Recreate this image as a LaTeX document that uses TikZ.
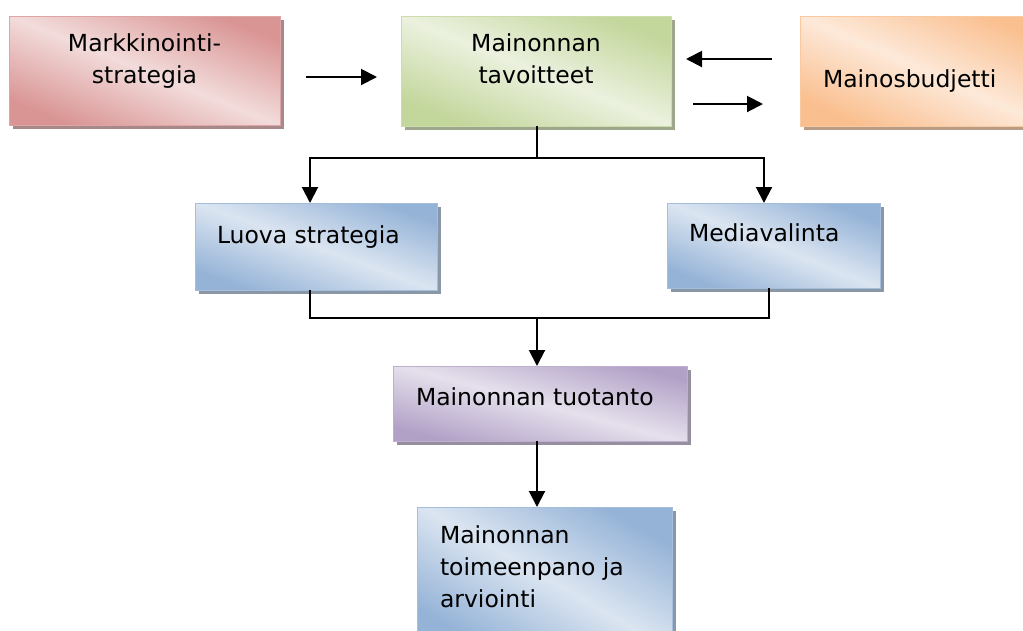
\documentclass[tikz,border=0pt]{standalone}
\usepackage{fontspec}
\setmainfont{DejaVu Sans}
\usetikzlibrary{arrows.meta,shadows}
\definecolor{pinkD}{HTML}{D99594}\definecolor{pinkL}{HTML}{F2DCDB}
\definecolor{greenD}{HTML}{C3D69B}\definecolor{greenL}{HTML}{EBF1DE}
\definecolor{orangeD}{HTML}{FABF8F}\definecolor{orangeL}{HTML}{FDE9D9}
\definecolor{blueD}{HTML}{95B3D7}\definecolor{blueL}{HTML}{DBE5F1}
\definecolor{purpleD}{HTML}{B2A1C7}\definecolor{purpleL}{HTML}{E5E0EC}
\newcommand\boxc[4]{\begin{minipage}[c][#2][t]{#1}\centering\rule{0pt}{#3}#4\end{minipage}}
\newcommand\boxl[5]{\begin{minipage}[c][#2][t]{#1}\raggedright\leftskip=#4\rule{0pt}{#3}#5\end{minipage}}
\tikzset{
  gbox/.style 2 args={inner sep=0pt, outer sep=0pt, line width=1pt, draw=#1D!85!white,
    top color=#1D, bottom color=#1D, middle color=#1L, shading angle=#2,
    general shadow={fill=#1D!45!gray, shadow xshift=3.5pt, shadow yshift=-3.5pt},
    font=\fontsize{23.5pt}{32pt}\selectfont},
  arr/.style={line width=2pt, -{Triangle[length=16pt,width=16pt]}},
  ln/.style={line width=2pt}
}
\begin{document}
\begin{tikzpicture}[x=1pt,y=-1pt]
\useasboundingbox (0,0) rectangle (1023,630);
\clip (0,0) rectangle (1023,630);
\node[gbox={pink}{-22}] (mk) at (144.5,70.5) {\boxc{271pt}{109pt}{35pt}{Markkinointi-\\strategia}};
\node[gbox={green}{-22}] (tav) at (536,71) {\boxc{270pt}{110pt}{35pt}{Mainonnan\\tavoitteet}};
\node[gbox={orange}{-24}] (bud) at (925,71) {\boxl{250pt}{110pt}{71pt}{23pt}{Mainosbudjetti}};
\node[gbox={blue}{-20}] (luova) at (316,246.5) {\boxl{242pt}{87pt}{40pt}{22pt}{Luova strategia}};
\node[gbox={blue}{-22}] (media) at (773.5,245.5) {\boxl{213pt}{85pt}{38pt}{22pt}{Mediavalinta}};
\node[gbox={purple}{-15}] (tuot) at (540,403.5) {\boxl{294pt}{75pt}{39pt}{23pt}{Mainonnan tuotanto}};
\node[gbox={blue}{-30}] (toim) at (544.5,577) {\boxl{255pt}{140pt}{36pt}{23pt}{Mainonnan\\toimeenpano ja\\arviointi}};
% top arrows
\draw[arr, shorten <=26pt, shorten >=24pt] ([yshift=-6.5pt]mk.east) -- ([yshift=-6pt]tav.west);
\draw[arr, shorten <=28pt, shorten >=15pt] ([yshift=12pt]bud.west) -- ([yshift=12pt]tav.east);
\draw[arr, shorten <=22pt, shorten >=37pt] ([yshift=-33pt]tav.east) -- ([yshift=-33pt]bud.west);
% branch down
\coordinate (j1) at (537,157.5);
\draw[ln] (tav.south -| j1) -- (j1);
\draw[arr] (j1) -| ([xshift=-6pt]luova.north);
\draw[arr] (j1) -| ([xshift=-9.5pt]media.north);
% merge
\coordinate (j2) at (537,318);
\draw[ln] ([xshift=-6pt]luova.south) |- (j2) -| ([xshift=-4.5pt]media.south);
\draw[arr] (j2) -- (tuot.north -| j2);
\draw[arr] (tuot.south -| j2) -- (toim.north -| j2);
\end{tikzpicture}
\end{document}
